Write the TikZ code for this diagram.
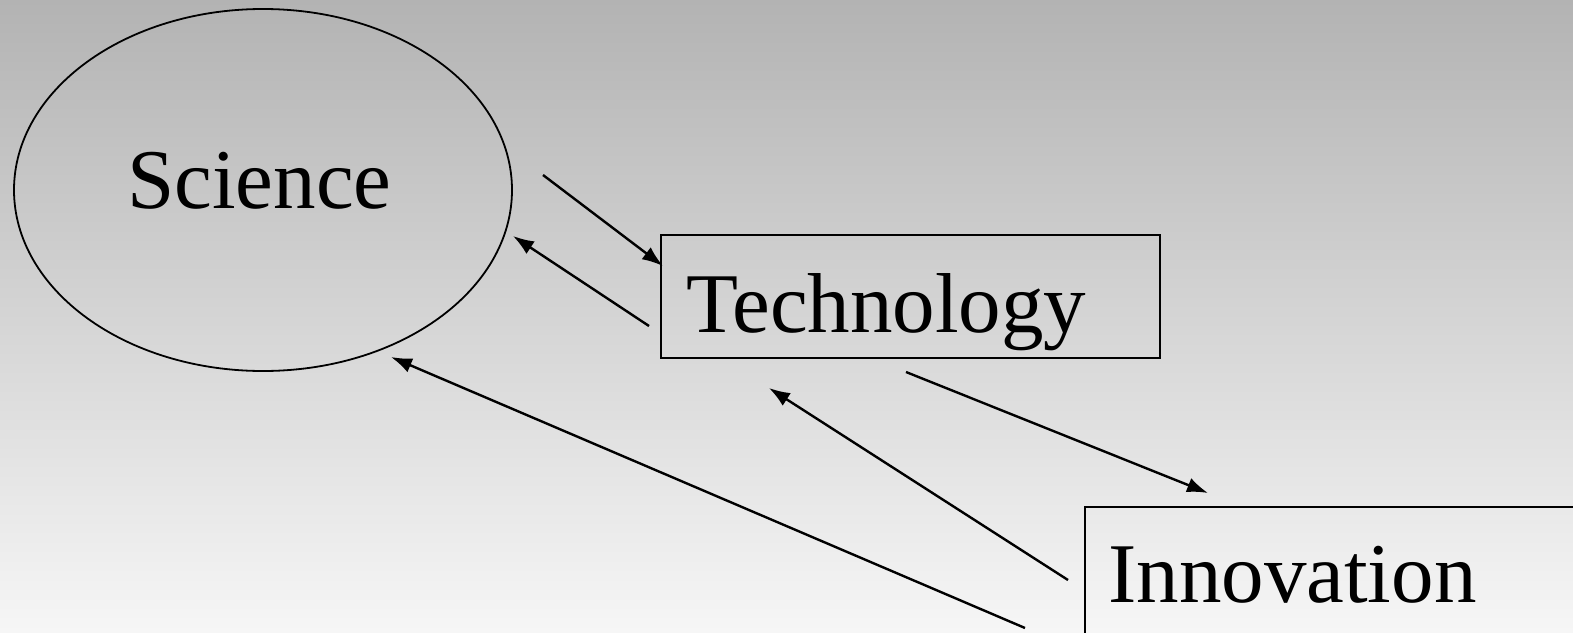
\documentclass[tikz,border=0pt]{standalone}
\usepackage{fontspec}
\setmainfont{Liberation Serif}
\usetikzlibrary{arrows.meta,shapes.geometric}
\definecolor{bgtop}{HTML}{B3B3B3}
\definecolor{bgbottom}{HTML}{F6F6F6}
\tikzset{
  arr/.style={line width=2.4pt, -{Latex[length=21pt,width=15pt]}},
  boxshape/.style={draw, line width=2.2pt, rectangle, inner sep=0pt},
  lbl/.style={anchor=base west, inner sep=0pt, font=\fontsize{85}{90}\selectfont},
}
\begin{document}
\begin{tikzpicture}[x=1pt,y=-1pt]
\useasboundingbox (0,0) rectangle (1573,632);
\clip (0,0) rectangle (1573,632);
\shade[top color=bgtop, bottom color=bgbottom] (0,0) rectangle (1573,632);
% Science ellipse
\node[draw, ellipse, line width=1.8pt, minimum width=498pt, minimum height=362pt, inner sep=0pt] (sci) at (263,190) {};
\node[lbl] (scit) at (127,208) {Science};
% Technology box
\node[boxshape, minimum width=499pt, minimum height=123pt] (tech) at (910.5,296.5) {};
\node[lbl] (techt) at (686,332) {Technology};
% Innovation box
\node[boxshape, minimum width=520pt, minimum height=160pt] (inno) at (1345,587) {};
\node[lbl] (innot) at (1108,602) {Innovation};
% arrow endpoints
\coordinate (a1s) at (543,175); \coordinate (a1e) at (663,266);
\coordinate (a2s) at (649,326); \coordinate (a2e) at (513,236);
\coordinate (a3s) at (906,372); \coordinate (a3e) at (1208,493);
\coordinate (a4s) at (1068,580); \coordinate (a4e) at (769,388);
\coordinate (a5s) at (1025,628); \coordinate (a5e) at (391,357);
\draw[arr] (a1s) -- (a1e);
\draw[arr] (a2s) -- (a2e);
\draw[arr] (a3s) -- (a3e);
\draw[arr] (a4s) -- (a4e);
\draw[arr] (a5s) -- (a5e);
\end{tikzpicture}
\end{document}
